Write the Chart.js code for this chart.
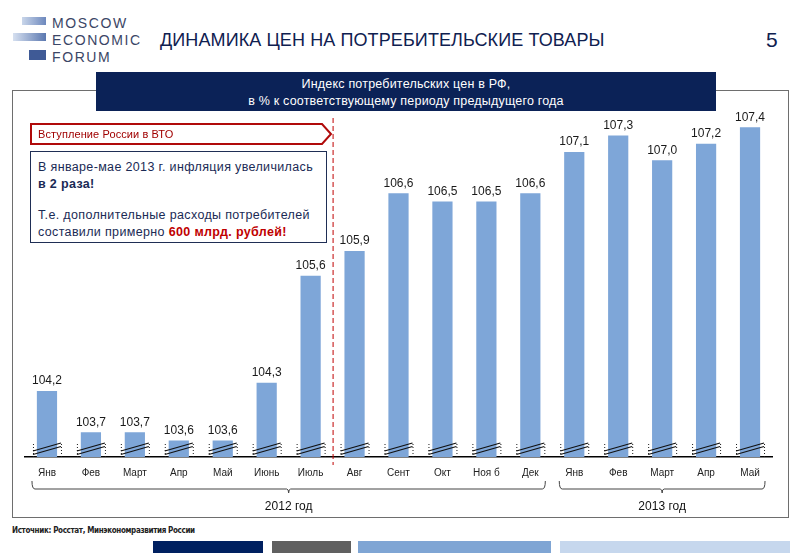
<!DOCTYPE html>
<html>
<head>
<meta charset="utf-8">
<script src="https://cdn.jsdelivr.net/npm/chart.js@4/dist/chart.umd.min.js"></script>
<style>
  html,body{margin:0;padding:0;background:#fff;}
  body{width:800px;height:553px;position:relative;overflow:hidden;font-family:"Liberation Sans",Arial,sans-serif;}
  .abs{position:absolute;}
  #chartWrap{position:absolute;left:0;top:0;width:800px;height:553px;z-index:2;}
  #outer{left:12px;top:90px;width:775px;height:426px;border:1.5px solid #6e6e6e;z-index:0;}
  #titlebox{left:96px;top:72px;width:620px;height:39px;background:#0b2257;color:#fff;font-size:12.5px;text-align:center;line-height:16.5px;padding-top:4px;box-sizing:border-box;z-index:3;letter-spacing:0.2px;}
  #logo div.t{position:absolute;left:52px;font-size:14px;letter-spacing:1.6px;color:#3b4666;}
  #head{left:160px;top:30px;font-size:18px;color:#0f2050;letter-spacing:0.1px;}
  #pnum{left:766px;top:28px;font-size:21px;color:#0f2050;}
  #wto{left:30px;top:123px;z-index:3;}
  #info{left:30px;top:151px;width:297px;height:92px;border:1px solid #1f2e55;box-sizing:border-box;background:#fff;z-index:3;color:#1a2a55;font-size:12.5px;line-height:16.5px;padding:7px 0 0 7px;letter-spacing:0.35px;white-space:nowrap;}
  #src{left:12px;top:526px;font-size:8px;font-weight:bold;color:#222;letter-spacing:-0.35px;font-family:"Liberation Sans Narrow","DejaVu Sans Condensed",sans-serif;}
</style>
</head>
<body>
<div id="outer" class="abs"></div>
<div id="logo" class="abs" style="left:0;top:0;width:150px;height:65px;">
  <div class="abs" style="left:22px;top:17px;width:24px;height:8px;background:linear-gradient(90deg,#c9d6ea,#6d88bd);"></div>
  <div class="abs" style="left:13px;top:33px;width:33px;height:8px;background:linear-gradient(90deg,#d6e0f0,#5b78b0);"></div>
  <div class="abs" style="left:29px;top:50px;width:17px;height:10px;background:#3f5a96;"></div>
  <div class="t" style="top:15px;">MOSCOW</div>
  <div class="t" style="top:32px;">ECONOMIC</div>
  <div class="t" style="top:49px;">FORUM</div>
</div>
<div id="head" class="abs">ДИНАМИКА ЦЕН НА ПОТРЕБИТЕЛЬСКИЕ ТОВАРЫ</div>
<div id="pnum" class="abs">5</div>
<div id="titlebox" class="abs">Индекс потребительских цен в РФ,<br>в % к соответствующему периоду предыдущего года</div>
<svg id="wto" class="abs" width="310" height="24" viewBox="0 0 310 24">
  <polygon points="1,1 292,1 301,11 292,21 1,21" fill="#fff" stroke="#b00a0a" stroke-width="2"/>
  <text x="8" y="15" font-size="11" fill="#a00000" font-family="Liberation Sans, Arial, sans-serif" letter-spacing="0.1">Вступление России в ВТО</text>
</svg>
<div id="info" class="abs">
  В январе-мае 2013 г. инфляция увеличилась<br><b>в 2 раза!</b><br><div style="height:15px"></div>
  Т.е. дополнительные расходы потребителей<br>составили примерно <b style="color:#c00000">600 млрд. рублей!</b>
</div>
<div id="src" class="abs">Источник: Росстат, Минэкономразвития России</div>
<div class="abs" style="left:153px;top:541px;width:110px;height:12px;background:#002060;"></div>
<div class="abs" style="left:272px;top:541px;width:79px;height:12px;background:#606060;"></div>
<div class="abs" style="left:358px;top:541px;width:193px;height:12px;background:#7fa5d4;"></div>
<div class="abs" style="left:560px;top:541px;width:230px;height:12px;background:#c6d7ed;"></div>
<div id="chartWrap"><canvas id="c" width="800" height="553"></canvas></div>
<script>
const months = ["Янв","Фев","Март","Апр","Май","Июнь","Июль","Авг","Сент","Окт","Ноя б","Дек","Янв","Фев","Март","Апр","Май"];
const cpiValues = [104.2,103.7,103.7,103.6,103.6,104.3,105.6,105.9,106.6,106.5,106.5,106.6,107.1,107.3,107.0,107.2,107.4];
const yearGroups = ["2012 год","2013 год"];
const yearStartIndex = [0,12];
const yearEndIndex = [11,16];
const wtoAfterIndex = 6;

const fmt = v => v.toFixed(1).replace('.',',');

const overlay = {
  id:'overlay',
  afterDatasetsDraw(chart){
    const ctx = chart.ctx;
    const meta = chart.getDatasetMeta(0);
    const base = chart.chartArea.bottom;
    ctx.save();
    // value labels
    ctx.fillStyle = '#1a1a1a';
    ctx.font = '12px "Liberation Sans", Arial, sans-serif';
    ctx.textAlign = 'center';
    ctx.textBaseline = 'bottom';
    meta.data.forEach((bar,i)=>{ ctx.fillText(fmt(cpiValues[i]), bar.x, bar.y - 4); });
    // break marks
    meta.data.forEach(bar=>{
      const x = bar.x;
      ctx.strokeStyle = '#1a1a1a';
      ctx.lineWidth = 1;
      ctx.setLineDash([1,2]);
      [x-14, x+14].forEach(xx=>{
        ctx.beginPath(); ctx.moveTo(xx+0.5, base-13); ctx.lineTo(xx+0.5, base); ctx.stroke();
      });
      ctx.setLineDash([]);
      ctx.lineWidth = 1.2;
      ctx.strokeStyle = '#111';
      [0,1].forEach(k=>{
        const y0 = base - 6 + (k? 3.5:0);
        ctx.beginPath(); ctx.moveTo(x-14, y0); ctx.lineTo(x+14, y0-8); ctx.stroke();
      });
    });
    // WTO dashed line
    const xs = chart.scales.x;
    const wx = (xs.getPixelForValue(wtoAfterIndex) + xs.getPixelForValue(wtoAfterIndex+1))/2 + 0.5;
    ctx.strokeStyle = '#c00000';
    ctx.lineWidth = 1;
    ctx.setLineDash([5,3]);
    ctx.beginPath(); ctx.moveTo(wx, 118); ctx.lineTo(wx, base + 8); ctx.stroke();
    ctx.setLineDash([]);
    // year brackets
    ctx.strokeStyle = '#444';
    ctx.lineWidth = 1;
    ctx.fillStyle = '#111';
    ctx.font = '12px "Liberation Sans", Arial, sans-serif';
    ctx.textBaseline = 'middle';
    yearGroups.forEach((g,k)=>{
      const l = xs.getPixelForValue(yearStartIndex[k]) - 15;
      const r = xs.getPixelForValue(yearEndIndex[k]) + 15;
      const yb = base + 32;
      const cx = (l + r)/2;
      ctx.beginPath();
      ctx.moveTo(l, yb-8); ctx.quadraticCurveTo(l, yb, l+3, yb);
      ctx.lineTo(cx-2, yb); ctx.quadraticCurveTo(cx, yb, cx, yb+4);
      ctx.quadraticCurveTo(cx, yb, cx+2, yb);
      ctx.lineTo(r-3, yb); ctx.quadraticCurveTo(r, yb, r, yb-8);
      ctx.stroke();
      ctx.fillText(g, cx, base + 50);
    });
    ctx.restore();
  }
};

new Chart(document.getElementById('c'), {
  type:'bar',
  data:{ labels: months, datasets:[{ data: cpiValues, backgroundColor:'#7ea6d8', borderWidth:0, barPercentage:0.46, categoryPercentage:1 }] },
  options:{
    responsive:false, animation:false,
    layout:{ padding:{ left:25, right:28, top:115, bottom:70 } },
    plugins:{ legend:{display:false}, tooltip:{enabled:false} },
    scales:{
      y:{ display:false, min:103.4, max:107.55 },
      x:{
        afterFit(s){ s.height = 26; },
        grid:{ display:false, drawTicks:false },
        border:{ display:true, color:'#000', width:1.5 },
        ticks:{ color:'#222', font:{ size:10, family:'"Liberation Sans", Arial, sans-serif' }, padding:10, maxRotation:0, autoSkip:false }
      }
    }
  },
  plugins:[overlay]
});
</script>
</body>
</html>
